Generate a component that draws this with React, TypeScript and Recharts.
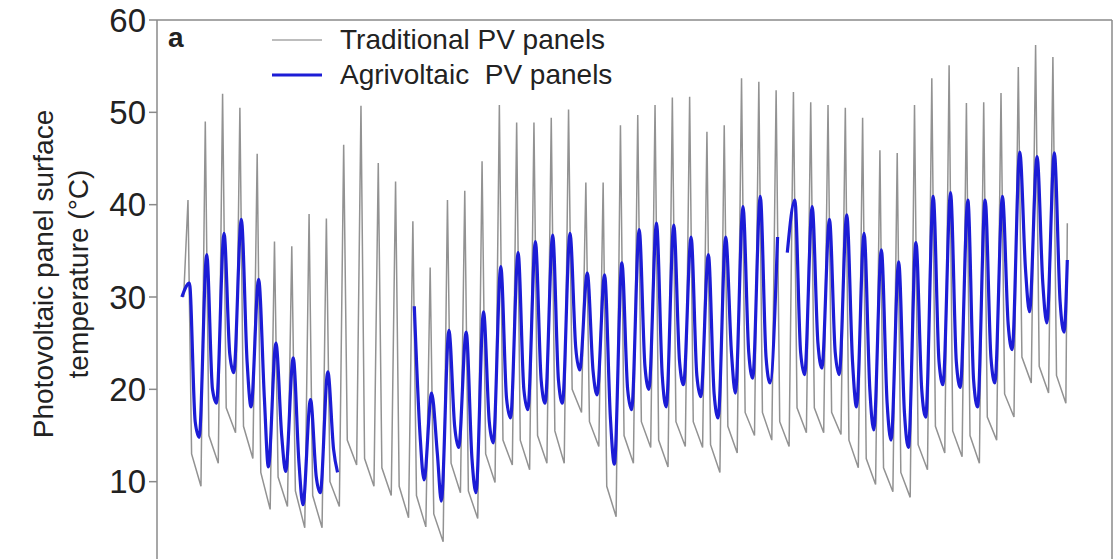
import React from 'react';
import { LineChart, Line, XAxis, YAxis, ReferenceLine, Legend } from 'recharts';

const FONT = '"Liberation Sans", Arial, Helvetica, sans-serif';

// hours are counted from the start of day 0; each day's midday spike sits at hour 12
const tradHours = { low: 6, peak: 12, eve: 17 };
const agriHours = { low: 3.5, peak: 14, eve: 22 };

// traditional panels: night minimum before each day's spike, the spike, the value after the evening drop
const tradLow = [
  30, 9.5, 12, 15.3, 12.5, 7, 7.3, 5, 5, 7.3,
  11.8, 9.5, 8.5, 6.1, 5.1, 3.5, 8.8, 6, 9.9, 11.8,
  11.3, 12, 12, 17.5, 13.8, 6.2, 12, 13.7, 11.6, 13.8,
  13.7, 11, 13.1, 15, 14.5, 13.8, 15.3, 15.3, 15.1, 11.5,
  9.7, 8.9, 8.3, 11.3, 13.1, 12.7, 12, 14.5, 17, 20.7,
  19.6, 18.5,
];
const tradPeak = [
  40.5, 49, 52, 50.5, 45.5, 36, 35.5, 39, 38.5, 46.5,
  50.7, 44.5, 42.5, 38.2, 33.2, 40.5, 41.5, 44.7, 50.8, 48.9,
  48.9, 49.4, 50.3, 42.4, 42.4, 48.6, 49.7, 50.8, 51.6, 51.7,
  47.9, 48.6, 53.7, 53.3, 52.4, 52.2, 51.1, 50.8, 50.5, 49.4,
  45.9, 45.6, 50.8, 53.7, 55.1, 51, 51.1, 52.1, 54.9, 57.3,
  56,
];
const tradEve = [
  13, 15, 18, 16, 11, 10.5, 9, 8.5, 10, 14.5,
  12.5, 11.5, 9.5, 8.5, 6.5, 12, 9, 13, 14.5, 14.5,
  15, 15.5, 20, 16.5, 9.5, 15, 16.5, 14.5, 16.5, 16.5,
  14, 16, 17.5, 17.5, 16.5, 18, 18, 17.5, 14.5, 12.5,
  11.5, 11, 14, 16, 15.5, 15, 17, 19.5, 23.5, 22.5,
  21.5,
];

// agrivoltaic panels: null where the record has gaps
const agriLow = [
  30, 14.8, 18.5, 21.8, 18.1, 11.6, 11.1, 7.5, 8.8, 11,
  null, null, null, null, 10.2, 7.9, 13.7, 8.8, 14.2, 16.9,
  17.8, 18.5, 18.5, 22.1, 19.4, 11.9, 17.8, 20, 18.1, 20.5,
  19.2, 16.9, 19.6, 21.2, 20.7, 34.8, 21.6, 22.3, 21.6, 18.1,
  15.6, 14.5, 13.7, 17, 20.5, 20.2, 18.1, 20.7, 24.3, 28.4,
  27.2, 26.2,
];
const agriPeak = [
  31.5, 34.6, 36.9, 38.4, 31.9, 25, 23.4, 18.9, 21.9, null,
  null, null, null, 29, 19.6, 26.4, 26.2, 28.4, 33.3, 34.8,
  36, 36.7, 36.9, 32.6, 32.4, 33.7, 37.3, 38, 37.8, 36.5,
  34.6, 36.5, 39.8, 40.9, 36.5, 40.5, 39.8, 38.4, 38.9, 36.9,
  35.1, 33.8, 35.9, 40.9, 41.3, 40.5, 40.5, 40.9, 45.7, 45.2,
  45.6,
];
const agriEve = [
  16.5, 20, 23.8, 23, 19, 15, 12, 10.5, 13.5, null,
  null, null, null, 15, 13, 16, 12.5, 16.5, 19, 20,
  21, 21, 24.5, 22, 17, 20, 22.5, 21.5, 23, 21.5,
  19.5, 24, 24, 23.5, null, 24, 25, 24, 23, 20,
  18.5, 17.5, 20, 23, 23, 21, 23.5, 27, 33, 31.5,
  29.5,
];

// last reading of the record (hour, traditional, agrivoltaic)
const lastReading = [1232, 38, 34];

const yTicks = [10, 20, 30, 40, 50, 60];
const seriesNames = ['Traditional PV panels', 'Agrivoltaic  PV panels'];

type Pt = { t: number; v: number | null };

function buildSeries(
  low: (number | null)[],
  peak: (number | null)[],
  eve: (number | null)[],
  hours: { low: number; peak: number; eve: number },
  last: number,
): Pt[] {
  const out: Pt[] = [];
  for (let d = 0; d < low.length; d++) {
    out.push({ t: d * 24 + hours.low, v: low[d] });
    if (d < peak.length) {
      out.push({ t: d * 24 + hours.peak, v: peak[d] });
      out.push({ t: d * 24 + hours.eve, v: eve[d] });
    }
  }
  out.push({ t: lastReading[0], v: last });
  return out;
}

const tradData = buildSeries(tradLow, tradPeak, tradEve, tradHours, lastReading[1]);
const agriData = buildSeries(agriLow, agriPeak, agriEve, agriHours, lastReading[2]);

const ChartText = () => (
  <g fontFamily={FONT} fill="#222">
    <text transform="translate(53,274) rotate(-90)" textAnchor="middle" fontSize={28}>
      Photovoltaic panel surface
    </text>
    <text transform="translate(88,274) rotate(-90)" textAnchor="middle" fontSize={28}>
      temperature (°C)
    </text>
    <text x={168} y={47} fontSize={28} fontWeight="bold">
      a
    </text>
  </g>
);

const renderLegend = (props: any) => {
  const payload = [...(props.payload || [])].sort(
    (a: any, b: any) => seriesNames.indexOf(a.value) - seriesNames.indexOf(b.value),
  );
  return (
    <div style={{ fontFamily: FONT }}>
      {payload.map((entry: any, i: number) => (
        <div key={entry.value} style={{ display: 'flex', alignItems: 'center', height: 35 }}>
          <svg width={50} height={6}>
            <line
              x1={0}
              y1={3}
              x2={50}
              y2={3}
              stroke={i === 0 ? '#bdbdbd' : entry.color}
              strokeWidth={i === 0 ? 2 : 3}
            />
          </svg>
          <span style={{ marginLeft: 18, fontSize: 28, color: '#222', whiteSpace: 'pre', lineHeight: '35px' }}>
            {entry.value}
          </span>
        </div>
      ))}
    </div>
  );
};

export default function App() {
  return (
    <div style={{ position: 'fixed', left: 0, top: 0, width: 1120, height: 559, overflow: 'hidden', background: '#fff' }}>
      <LineChart width={1120} height={600} margin={{ top: 20, right: 8, bottom: 26, left: 0 }}>
        <XAxis dataKey="t" type="number" domain={[-31, 1294]} allowDataOverflow hide />
        <YAxis
          width={157}
          domain={[0, 60]}
          ticks={yTicks}
          tickSize={8}
          tickMargin={3}
          stroke="#8a8a8a"
          strokeWidth={1.5}
          tick={{ fill: '#222', fontSize: 33, fontFamily: FONT }}
          label={<ChartText />}
        />
        <ReferenceLine y={60} stroke="#8a8a8a" strokeWidth={1.5} />
        <ReferenceLine x={1294} stroke="#8a8a8a" strokeWidth={1.5} />
        <Legend
          layout="vertical"
          align="center"
          verticalAlign="middle"
          wrapperStyle={{ left: 272, top: 22, width: 420 }}
          content={renderLegend}
        />
        <Line
          data={tradData}
          dataKey="v"
          name={seriesNames[0]}
          type="linear"
          stroke="#929292"
          strokeWidth={1.5}
          dot={false}
          isAnimationActive={false}
        />
        <Line
          data={agriData}
          dataKey="v"
          name={seriesNames[1]}
          type="monotone"
          stroke="#1c1cd6"
          strokeWidth={3.2}
          dot={false}
          isAnimationActive={false}
        />
      </LineChart>
    </div>
  );
}
